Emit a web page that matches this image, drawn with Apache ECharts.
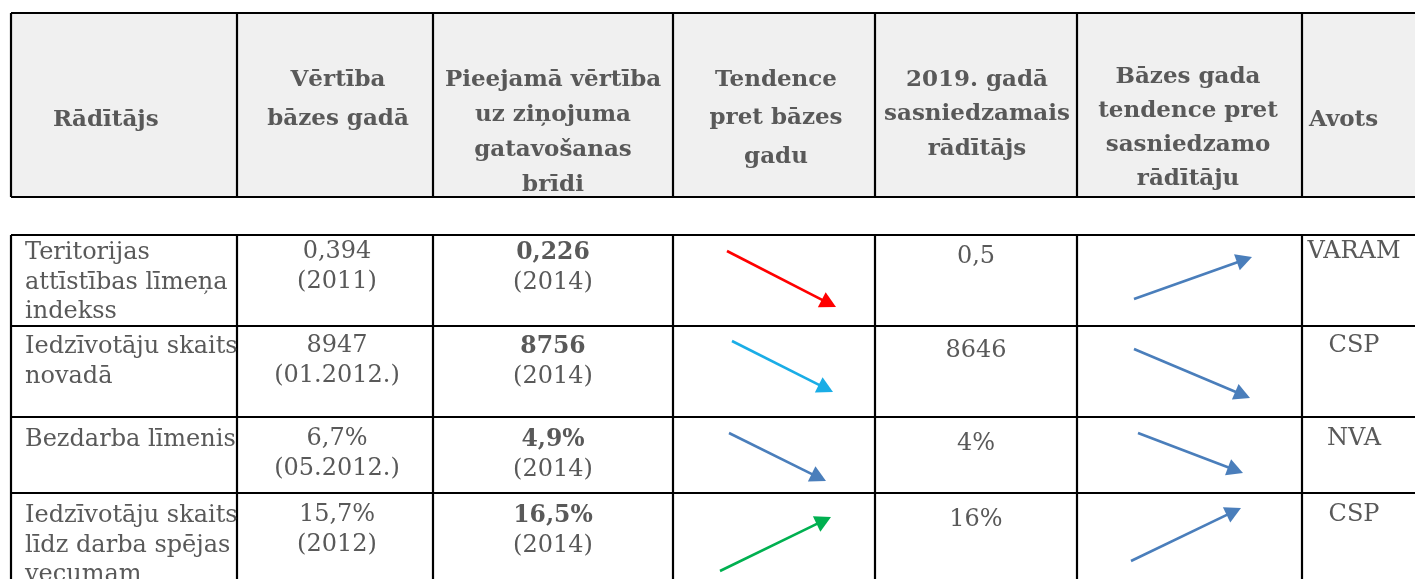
<!DOCTYPE html>
<html>
<head>
<meta charset="utf-8">
<script src="https://cdn.jsdelivr.net/npm/echarts@6/dist/echarts.min.js"></script>
<style>
  html, body { margin: 0; padding: 0; background: #ffffff; }
  #chart { width: 1415px; height: 579px; }
</style>
</head>
<body>
<div id="chart"></div>
<script>
// ---------------- DATA ----------------
const headers = [
  ["Rādītājs"],
  ["Vērtība", "bāzes gadā"],
  ["Pieejamā vērtība", "uz ziņojuma", "gatavošanas", "brīdi"],
  ["Tendence", "pret bāzes", "gadu"],
  ["2019. gadā", "sasniedzamais", "rādītājs"],
  ["Bāzes gada", "tendence pret", "sasniedzamo", "rādītāju"],
  ["Avots"]
];
const indicators = [
  ["Teritorijas", "attīstības līmeņa", "indekss"],
  ["Iedzīvotāju skaits", "novadā"],
  ["Bezdarba līmenis"],
  ["Iedzīvotāju skaits", "līdz darba spējas", "vecumam"]
];
const baseValues = ["0,394", "8947", "6,7%", "15,7%"];
const baseDates = ["(2011)", "(01.2012.)", "(05.2012.)", "(2012)"];
const currentValues = ["0,226", "8756", "4,9%", "16,5%"];
const currentDates = ["(2014)", "(2014)", "(2014)", "(2014)"];
const targets = ["0,5", "8646", "4%", "16%"];
const trendVsBase = ["down", "down", "down", "up"];
const trendToTarget = ["up", "down", "down", "up"];
const sources = ["VARAM", "CSP", "NVA", "CSP"];

// ---------------- LAYOUT (positions / sizes) ----------------
const W = 1415, H = 579;
const colEdges = [11, 237, 433, 673, 875, 1077, 1302];
const rightEdge = 1415;
const headerTop = 13, headerBottom = 197;
const rowEdges = [235, 326, 417, 493, 579];
const headerLayout = [
  { x: 53, align: "left", y0: 120, step: 0 },
  { x: 338, align: "center", y0: 80, step: 39 },
  { x: 553, align: "center", y0: 80, step: 35 },
  { x: 776, align: "center", y0: 80, step: 38.5 },
  { x: 977, align: "center", y0: 80, step: 34.5 },
  { x: 1188, align: "center", y0: 77, step: 34 },
  { x: 1309, align: "left", y0: 120, step: 0 }
];
const rowFirstY = [253, 347, 440, 516];
const bodyStep = 29.5;
const bodyCols = {
  name:   { x: 25,   align: "left",   dy: 0 },
  base:   { x: 337,  align: "center", dy: -1 },
  cur:    { x: 553,  align: "center", dy: 0 },
  target: { x: 976,  align: "center", dy: 4 },
  source: { x: 1354, align: "center", dy: -1 }
};
// arrow boxes [left, top, right, bottom] per row
const trendBoxes = [[727, 251, 836, 307], [732, 341, 833, 392], [729, 433, 826, 481], [720, 517, 831, 571]];
const targetBoxes = [[1134, 257, 1252, 299], [1134, 349, 1250, 398], [1138, 433, 1243, 473], [1131, 508, 1241, 561]];

// ---------------- STYLE ----------------
const textColor = "#595959";
const fontFamily = "'DejaVu Serif', serif";
const headerFont = "bold 23px " + fontFamily;
const bodyFont = "24px " + fontFamily;
const bodyBoldFont = "bold 23.5px " + fontFamily;
const headerFill = "#f0f0f0";
const trendColors = ["#ff0000", "#1aade6", "#4a7ebb", "#00b050"];
const targetColor = "#4a7ebb";

// ---------------- BUILD ITEMS ----------------
const textItems = [];
headers.forEach((lines, c) => {
  const L = headerLayout[c];
  lines.forEach((t, i) => textItems.push({ x: L.x, y: L.y0 + i * L.step, text: t, font: headerFont, align: L.align }));
});
function pushLines(lines, col, r, font) {
  lines.forEach((t, i) => textItems.push({
    x: col.x, y: rowFirstY[r] + col.dy + i * bodyStep, text: t, font: font, align: col.align
  }));
}
for (let r = 0; r < indicators.length; r++) {
  pushLines(indicators[r], bodyCols.name, r, bodyFont);
  pushLines([baseValues[r], baseDates[r]], bodyCols.base, r, bodyFont);
  textItems.push({ x: bodyCols.cur.x, y: rowFirstY[r] + bodyCols.cur.dy, text: currentValues[r], font: bodyBoldFont, align: "center" });
  textItems.push({ x: bodyCols.cur.x, y: rowFirstY[r] + bodyCols.cur.dy + bodyStep, text: currentDates[r], font: bodyFont, align: "center" });
  pushLines([targets[r]], bodyCols.target, r, bodyFont);
  pushLines([sources[r]], bodyCols.source, r, bodyFont);
}

const lineItems = [];
[headerTop, headerBottom].forEach(y => lineItems.push([colEdges[0], y, rightEdge, y]));
colEdges.forEach(x => lineItems.push([x, headerTop, x, headerBottom]));
rowEdges.slice(0, 4).forEach(y => lineItems.push([colEdges[0], y, rightEdge, y]));
colEdges.forEach(x => lineItems.push([x, rowEdges[0], x, rowEdges[4] + 5]));

const arrowItems = [];
function arrowFrom(box, dir, color) {
  const [l, t, r, b] = box;
  if (dir === "down") arrowItems.push({ p: [l, t, r, b], color });
  else arrowItems.push({ p: [l, b, r, t], color });
}
trendVsBase.forEach((d, r) => arrowFrom(trendBoxes[r], d, trendColors[r]));
trendToTarget.forEach((d, r) => arrowFrom(targetBoxes[r], d, targetColor));

// ---------------- CHART ----------------
const chart = echarts.init(document.getElementById("chart"), null, { renderer: "canvas" });
chart.setOption({
  animation: false,
  backgroundColor: "#ffffff",
  grid: { left: 0, right: 0, top: 0, bottom: 0 },
  xAxis: { type: "value", min: 0, max: W, show: false },
  yAxis: { type: "value", min: 0, max: H, inverse: true, show: false },
  series: [
    {
      type: "custom", name: "headerFill", silent: true, z: 1,
      data: [[colEdges[0], headerTop, rightEdge, headerBottom]],
      renderItem: (params, api) => {
        const a = api.coord([api.value(0), api.value(1)]);
        const b = api.coord([api.value(2), api.value(3)]);
        return { type: "rect", shape: { x: a[0], y: a[1], width: b[0] - a[0], height: b[1] - a[1] }, style: { fill: headerFill } };
      }
    },
    {
      type: "custom", name: "gridLines", silent: true, z: 3,
      data: lineItems,
      renderItem: (params, api) => {
        const a = api.coord([api.value(0), api.value(1)]);
        const b = api.coord([api.value(2), api.value(3)]);
        return { type: "line", shape: { x1: a[0], y1: a[1], x2: b[0], y2: b[1] }, style: { stroke: "#000000", lineWidth: 2.2 } };
      }
    },
    {
      type: "custom", name: "arrows", silent: true, z: 4,
      data: arrowItems.map((a, i) => [a.p[0], a.p[1], a.p[2], a.p[3], i]),
      renderItem: (params, api) => {
        const it = arrowItems[api.value(4)];
        const s = api.coord([api.value(0), api.value(1)]);
        const e = api.coord([api.value(2), api.value(3)]);
        const dx = e[0] - s[0], dy = e[1] - s[1];
        const len = Math.sqrt(dx * dx + dy * dy);
        const ux = dx / len, uy = dy / len;
        const hl = 16, hw = 8.5;
        const bx = e[0] - ux * hl, by = e[1] - uy * hl;
        return {
          type: "group",
          children: [
            { type: "line", shape: { x1: s[0], y1: s[1], x2: bx + ux * 2, y2: by + uy * 2 }, style: { stroke: it.color, lineWidth: 2.6 } },
            { type: "polygon", shape: { points: [[e[0], e[1]], [bx - uy * hw, by + ux * hw], [bx + uy * hw, by - ux * hw]] }, style: { fill: it.color } }
          ]
        };
      }
    },
    {
      type: "custom", name: "texts", silent: true, z: 5,
      data: textItems.map((t, i) => [t.x, t.y, i]),
      renderItem: (params, api) => {
        const t = textItems[api.value(2)];
        const p = api.coord([api.value(0), api.value(1)]);
        return { type: "text", x: p[0], y: p[1], style: { text: t.text, font: t.font, fill: textColor, align: t.align, verticalAlign: "middle" } };
      }
    }
  ]
});
</script>
</body>
</html>
